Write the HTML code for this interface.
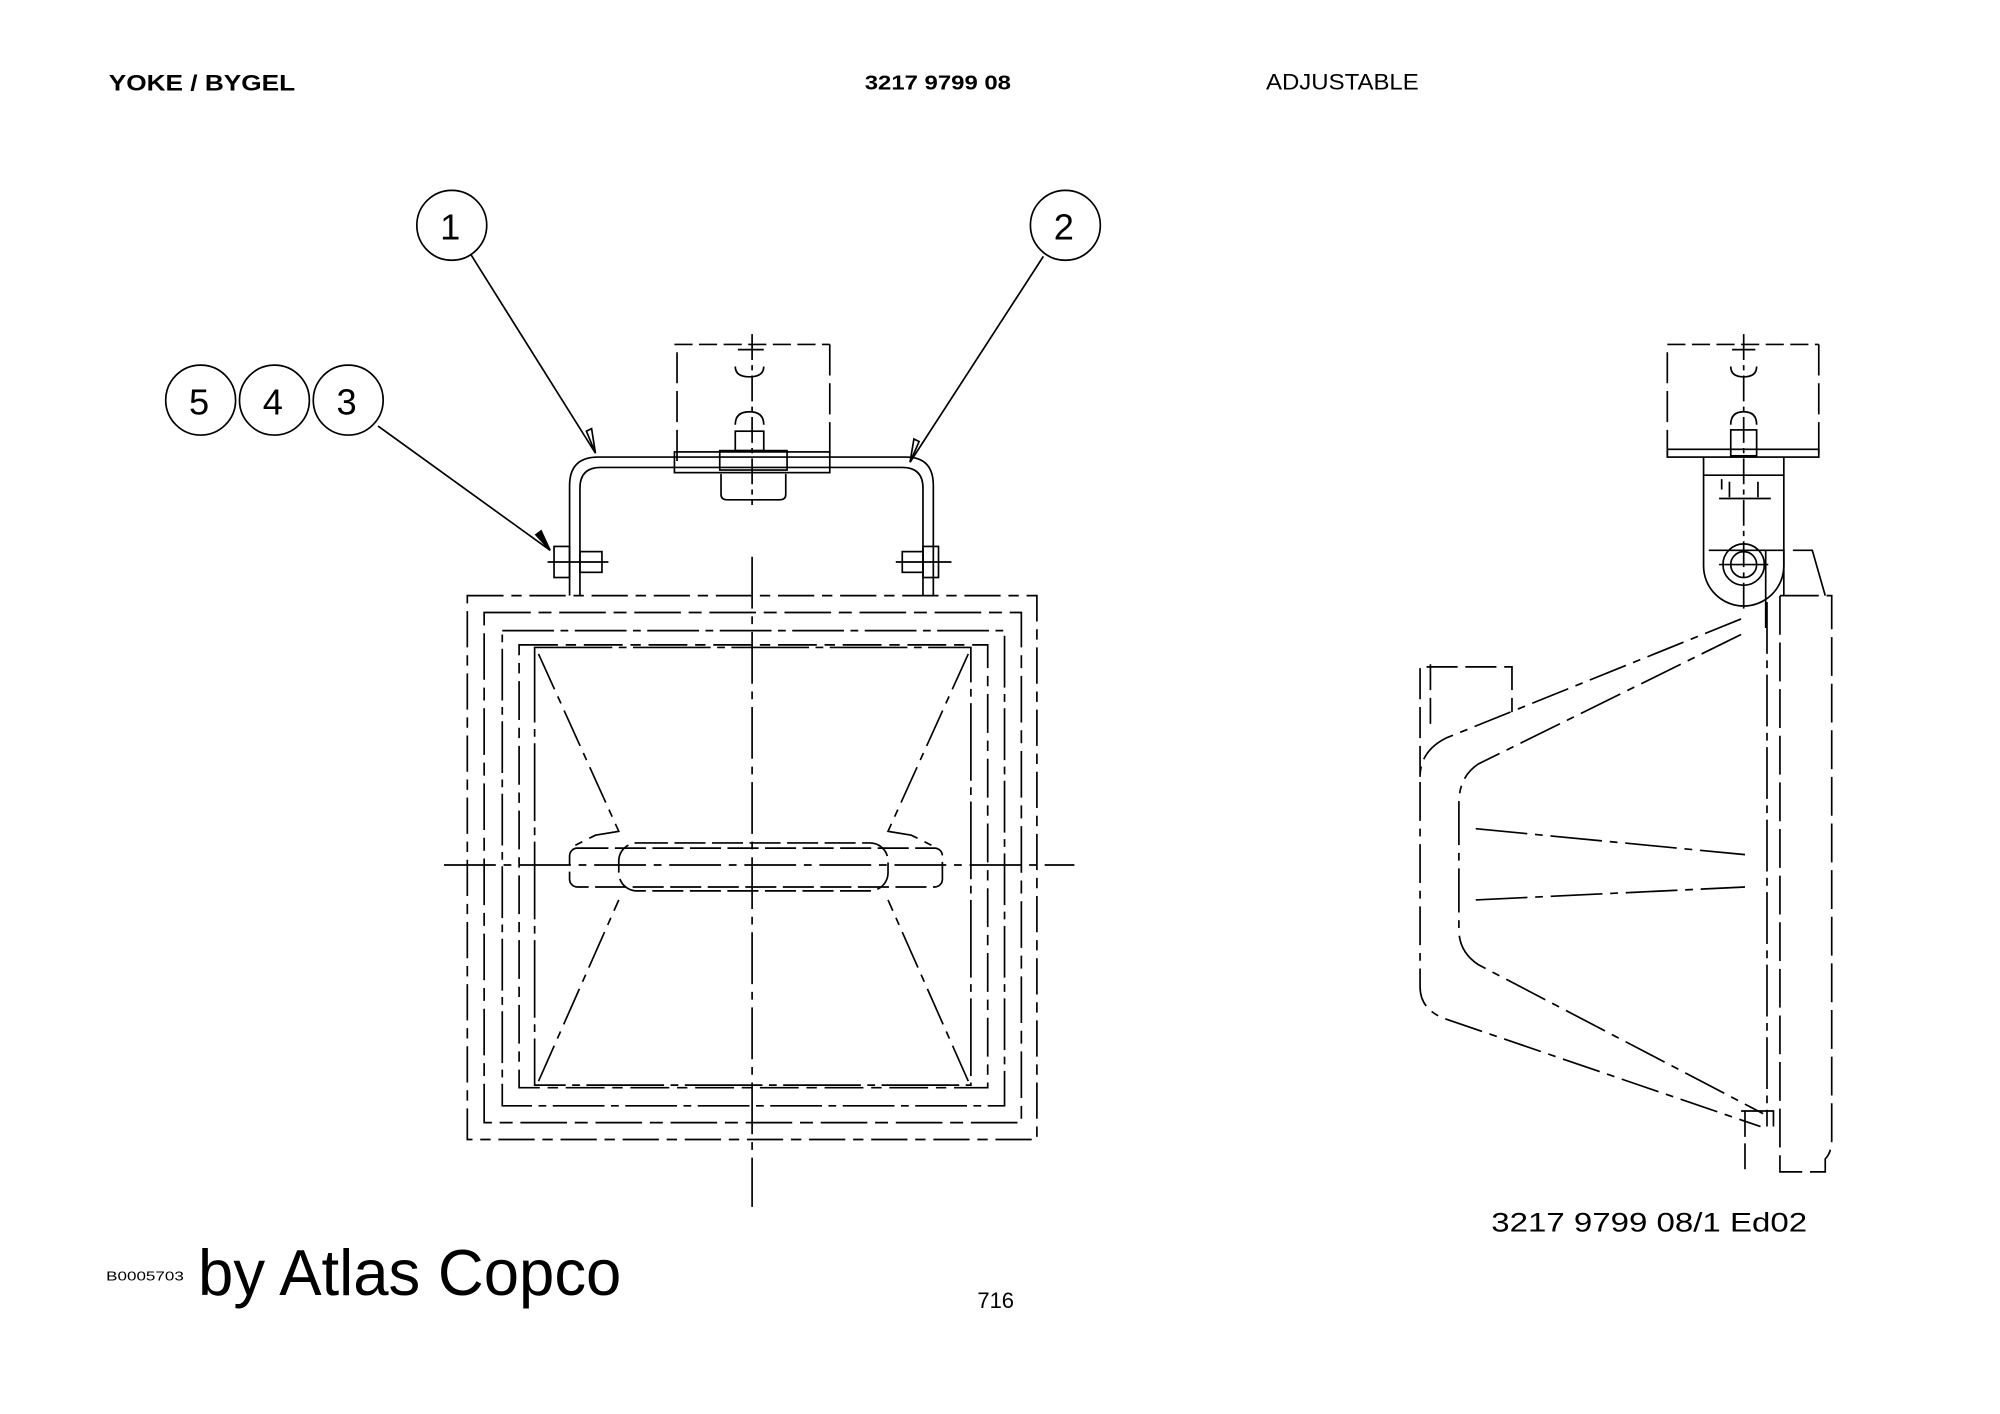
<!DOCTYPE html>
<html><head><meta charset="utf-8"><style>
html,body{margin:0;padding:0;background:#fff}
svg{display:block}
text{font-family:"Liberation Sans",sans-serif;fill:#000}
</style></head><body>
<svg width="2000" height="1414" viewBox="0 0 1545 1092" preserveAspectRatio="none" xmlns="http://www.w3.org/2000/svg">
<text x="84" y="70" font-size="17" font-weight="bold" textLength="144" lengthAdjust="spacingAndGlyphs">YOKE / BYGEL</text>
<text x="668" y="69" font-size="16" font-weight="bold" textLength="113" lengthAdjust="spacingAndGlyphs">3217 9799 08</text>
<text x="978" y="69" font-size="17" textLength="118" lengthAdjust="spacingAndGlyphs">ADJUSTABLE</text>

<g fill="none" stroke="#000" stroke-width="1.3">
<circle cx="349" cy="174" r="27"/>
<circle cx="823" cy="174" r="27"/>
<circle cx="155" cy="309" r="27"/>
<circle cx="212" cy="309" r="27"/>
<circle cx="269" cy="309" r="27"/>
<line x1="364" y1="197" x2="460" y2="350"/>
<line x1="806" y1="198" x2="703" y2="357"/>
<line x1="292" y1="329" x2="425" y2="425"/>
<polygon points="425,425 414,413 418,410" fill="#000"/>
<polygon points="460,350 453,333 457,331"/>
<polygon points="703,357 706,339 710,341"/>

<path d="M521 266 H641" stroke-dasharray="14 5"/>
<path d="M523 272 V362 M641 266 V352" stroke-dasharray="24 6"/>
<rect x="521" y="349" width="120" height="16"/>
<rect x="556" y="348" width="52" height="15"/>
<rect x="568" y="333" width="22" height="15"/>
<path d="M557 366 v16 q0 4 5 4 h40 q5 0 5-4 v-16"/>
<path d="M568 328 q0-10 11-10 q11 0 11 10 M568 283 q0 8 11 8 q11 0 11-8 M570 270 h20"/>
<line x1="581" y1="258" x2="581" y2="390" stroke-dasharray="20 4 4 4"/>

<path d="M440 460 V375 q0-22 22-22 H700 q21 0 21 22 V460"/>
<path d="M448 460 V377 q0-16 16-16 H697 q16 0 16 16 V460"/>
<rect x="428" y="422" width="12" height="24"/>
<rect x="448" y="426" width="17" height="16"/>
<rect x="713" y="422" width="12" height="24"/>
<rect x="697" y="426" width="16" height="16"/>
<line x1="423" y1="434" x2="470" y2="434"/>
<line x1="692" y1="434" x2="735" y2="434"/>

<rect x="361" y="460" width="440" height="420" stroke-dasharray="28 6 8 6"/>
<rect x="374" y="473" width="415" height="394" stroke-dasharray="36 6 10 6"/>
<rect x="388" y="487" width="388" height="367" stroke-dasharray="40 5 6 5"/>
<rect x="401" y="498" width="362" height="342" stroke-dasharray="30 6 8 6"/>
<rect x="413" y="500" width="337" height="338" stroke-dasharray="60 5 6 5"/>
<line x1="581" y1="430" x2="581" y2="932" stroke-dasharray="40 6 6 6"/>
<line x1="343" y1="668" x2="830" y2="668" stroke-dasharray="40 6 6 6"/>
<path d="M416 505 L478 642 L460 645 L440 655" stroke-dasharray="30 6 6 6"/>
<path d="M748 505 L686 642 L704 645 L724 655" stroke-dasharray="30 6 6 6"/>
<path d="M416 835 L478 695 M748 835 L686 695" stroke-dasharray="30 6 6 6"/>
<rect x="440" y="655" width="288" height="30" rx="6" stroke-dasharray="24 5"/>
<rect x="478" y="651" width="208" height="37" rx="14" stroke-dasharray="24 5"/>

<path d="M1288 266 H1405" stroke-dasharray="14 5"/>
<path d="M1288 272 V352 M1405 266 V352" stroke-dasharray="24 6"/>
<rect x="1288" y="347" width="117" height="6"/>
<line x1="1347" y1="258" x2="1347" y2="470" stroke-dasharray="20 4 4 4"/>
<rect x="1337" y="332" width="20" height="20"/>
<path d="M1337 328 q0-10 10-10 q10 0 10 10 M1337 283 q0 8 10 8 q10 0 10-8 M1338 270 h18"/>
<path d="M1316 353 V437 a31 31 0 0 0 62 0 V353"/>
<line x1="1316" y1="367" x2="1378" y2="367"/>
<path d="M1330 370 v8 M1336 372 v12 M1358 372 v12 M1328 385 h40"/>
<circle cx="1347" cy="436" r="16"/>
<circle cx="1347" cy="436" r="10"/>
<line x1="1328" y1="436" x2="1366" y2="436"/>
<path d="M1320 425 h44 v60 M1363 425 h15 v35 M1385 425 h15 l10 35" />
<path d="M1375 460 H1415 V880 q0 10-5 15 V905 H1375 Z" stroke-dasharray="30 6"/>
<line x1="1365" y1="465" x2="1365" y2="870" stroke-dasharray="40 5 6 5"/>
<line x1="1348" y1="858" x2="1348" y2="905" stroke-dasharray="20 5"/>
<path d="M1345 478 L1117 570 Q1097 580 1097 600 V762 Q1097 780 1117 787 L1360 870" stroke-dasharray="30 6 6 6"/>
<path d="M1345 490 L1142 590 Q1127 600 1127 620 V718 Q1127 735 1142 745 L1362 860" stroke-dasharray="34 6 6 6"/>
<path d="M1097 600 V515 H1168 V550" stroke-dasharray="24 6"/>
<path d="M1105 513 V560" stroke-dasharray="20 6"/>
<path d="M1140 640 L1348 660 M1140 695 L1348 685" stroke-dasharray="40 6 6 6"/>
<path d="M1345 858 H1370 V870"/>
</g>

<text x="1152" y="951" font-size="21" textLength="244" lengthAdjust="spacingAndGlyphs">3217 9799 08/1  Ed02</text>
<text x="82" y="989" font-size="10" textLength="60" lengthAdjust="spacingAndGlyphs">B0005703</text>
<text x="153" y="1000" font-size="50" font-family="Liberation Sans Narrow, Liberation Sans, sans-serif" textLength="327" lengthAdjust="spacingAndGlyphs">by Atlas Copco</text>
<text x="755" y="1010" font-size="17">716</text>
<text x="340" y="185" font-size="28">1</text>
<text x="814" y="185" font-size="28">2</text>
<text x="146" y="320" font-size="28">5</text>
<text x="203" y="320" font-size="28">4</text>
<text x="260" y="320" font-size="28">3</text>
</svg>
</body></html>
